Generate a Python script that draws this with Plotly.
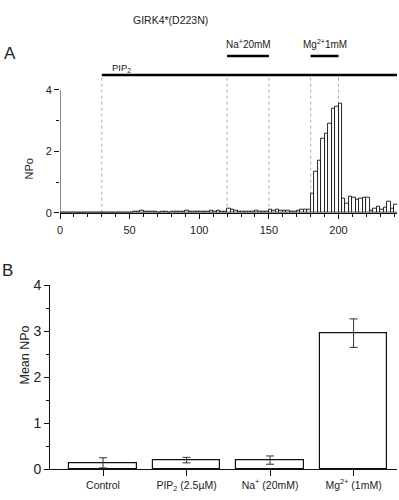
import plotly.graph_objects as go

# ---------------- data ----------------
bin_width = 2.5  # seconds per histogram bin
npo_values = [
    0, 0, 0, 0, 0, 0, 0, 0, 0, 0,
    0, 0, 0, 0, 0, 0, 0, 0, 0, 0,
    0, 0.05, 0.04, 0.07, 0.03, 0.05, 0.02, 0.03, 0.01, 0.02,
    0.03, 0.01, 0.02, 0.04, 0.02, 0.03, 0.06, 0.05, 0.04, 0.02,
    0.03, 0.05, 0.03, 0.06, 0.04, 0.07, 0.05, 0.04, 0.12, 0.10,
    0.08, 0.03, 0.02, 0.04, 0.03, 0.05, 0.06, 0.04, 0.03, 0.05,
    0.09, 0.08, 0.11, 0.07, 0.06, 0.08, 0.05, 0.04, 0.07, 0.09,
    0.10, 0.11, 0.61, 1.33, 1.68, 2.40, 2.57, 2.91, 3.40, 3.47,
    3.56, 0.45, 0.28, 0.52, 0.50, 0.41, 0.45, 0.48, 0.50, 0.06,
    0.12, 0.20, 0.10, 0.15, 0.36, 0.12, 0.26,
]
bin_centers = [bin_width * (i + 0.5) for i in range(len(npo_values))]

marker_times = [30, 120, 150, 180, 200]
na_period = [120, 150]
mg_period = [180, 200]
pip2_start = 30

categories = ["Control", "PIP<sub>2</sub> (2.5\u00b5M)", "Na<sup>+</sup> (20mM)", "Mg<sup>2+</sup> (1mM)"]
mean_npo = [0.14, 0.20, 0.20, 2.96]
sem_npo = [0.11, 0.06, 0.09, 0.31]

# ---------------- figure ----------------
W, H = 399, 500
FONT = "Liberation Sans, Arial, sans-serif"
TXT = "#222222"

def px_x(p):
    return p / W

def px_y(p):
    return 1 - p / H

fig = go.Figure()

# Panel A histogram
fig.add_trace(go.Bar(
    x=bin_centers, y=npo_values, width=bin_width,
    marker=dict(color="white", line=dict(color="#111111", width=0.9)),
    xaxis="x", yaxis="y", showlegend=False,
))

# Panel B bars
fig.add_trace(go.Bar(
    x=list(range(len(categories))), y=mean_npo, width=0.81,
    marker=dict(color="white", line=dict(color="#111111", width=1.2)),
    error_y=dict(type="data", array=sem_npo, color="#333333", thickness=1, width=4),
    xaxis="x2", yaxis="y2", showlegend=False,
))

# Panel A geometry: 0 at y=212.7px, 30.7 px per unit
A_zero = 212.7
A_unit = 30.7
A_top_val = 5.8
A_x_left, A_x_right = 60, 397
A_xmax = 242

fig.update_layout(
    width=W, height=H,
    margin=dict(l=0, r=0, t=0, b=0, autoexpand=False),
    paper_bgcolor="white", plot_bgcolor="white",
    font=dict(family=FONT, color=TXT, size=11),
    bargap=0,
    xaxis=dict(
        domain=[px_x(A_x_left), px_x(A_x_right)], range=[0, A_xmax],
        anchor="y", showline=True, linecolor="#111111", linewidth=1,
        ticks="outside", ticklen=5, tickcolor="#111111", tickwidth=1,
        tickvals=[0, 50, 100, 150, 200], showgrid=False, zeroline=False,
        minor=dict(dtick=10, ticks="outside", ticklen=3, tickcolor="#111111", tick0=0),
        tickfont=dict(size=11), ticklabelstandoff=2, automargin=False,
    ),
    yaxis=dict(
        domain=[px_y(A_zero), px_y(A_zero - A_top_val * A_unit)],
        range=[0, A_top_val], anchor="x", showline=False,
        ticks="outside", ticklen=5, tickcolor="#111111", tickwidth=1,
        tickvals=[0, 2, 4],
        minor=dict(tickvals=[1, 3], ticks="outside", ticklen=3, tickcolor="#111111"),
        showgrid=False, zeroline=False, tickfont=dict(size=11), automargin=False,
    ),
    xaxis2=dict(
        domain=[px_x(50), px_x(397)], range=[-0.635, 3.52],
        anchor="y2", showline=True, linecolor="#111111", linewidth=1,
        ticks="outside", ticklen=6, tickcolor="#111111",
        tickvals=list(range(len(categories))), ticktext=categories,
        showgrid=False, zeroline=False, tickfont=dict(size=10.5), automargin=False,
    ),
    yaxis2=dict(
        domain=[px_y(469.3), px_y(285.3)], range=[0, 4],
        anchor="x2", showline=True, linecolor="#111111", linewidth=1,
        ticks="outside", ticklen=5, tickcolor="#111111",
        dtick=1, showgrid=False, zeroline=False, tickfont=dict(size=14),
        minor=dict(dtick=0.5, ticks="outside", ticklen=3, tickcolor="#111111"),
        automargin=False, ticklabelstandoff=0,
    ),
)

shapes = []
bar_y = (A_zero - 75) / A_unit
sub_bar_y = (A_zero - 56) / A_unit
# y axis line of panel A (0 to 4 only)
shapes.append(dict(type="line", xref="x", yref="y", x0=0, x1=0, y0=0, y1=4,
                   line=dict(color="#111111", width=1)))
# dotted marker lines
for t in marker_times:
    shapes.append(dict(type="line", xref="x", yref="y", x0=t, x1=t, y0=0, y1=bar_y,
                       line=dict(color="#aaaaaa", width=1, dash="dot"), layer="below"))
# PIP2 bar
shapes.append(dict(type="line", xref="x", yref="y", x0=pip2_start, x1=A_xmax, y0=bar_y, y1=bar_y,
                   line=dict(color="#000000", width=2.5)))
# Na and Mg bars
for p in (na_period, mg_period):
    shapes.append(dict(type="line", xref="x", yref="y", x0=p[0], x1=p[1], y0=sub_bar_y, y1=sub_bar_y,
                       line=dict(color="#000000", width=2.5)))
fig.update_layout(shapes=shapes)

lab_y = (A_zero - 44) / A_unit
pip_y = (A_zero - 68) / A_unit
annotations = [
    dict(text="GIRK4*(D223N)", x=px_x(170), y=px_y(12), xref="paper", yref="paper",
         showarrow=False, font=dict(size=10.5)),
    dict(text="A", x=px_x(2), y=px_y(42), xref="paper", yref="paper", xanchor="left",
         showarrow=False, font=dict(size=17)),
    dict(text="B", x=px_x(0), y=px_y(270), xref="paper", yref="paper", xanchor="left",
         showarrow=False, font=dict(size=17)),
    dict(text="NPo", x=px_x(20), y=px_y(157), xref="paper", yref="paper", textangle=-90,
         showarrow=False, font=dict(size=11)),
    dict(text="Mean NPo", x=px_x(15), y=px_y(387), xref="paper", yref="paper", textangle=-90,
         showarrow=False, font=dict(size=12.5)),
    dict(text="PIP<sub>2</sub>", x=(110 - A_x_left) * A_xmax / (A_x_right - A_x_left), y=pip_y,
         xref="x", yref="y", xanchor="left", showarrow=False, font=dict(size=9.5)),
    dict(text="Na<sup>+</sup>20mM", x=135, y=lab_y, xref="x", yref="y",
         showarrow=False, font=dict(size=10)),
    dict(text="Mg<sup>2+</sup>1mM", x=190, y=lab_y, xref="x", yref="y",
         showarrow=False, font=dict(size=10)),
]
fig.update_layout(annotations=annotations)

fig.write_html("out.html", config={"displayModeBar": False},
               post_script="document.body.style.margin='0';")
